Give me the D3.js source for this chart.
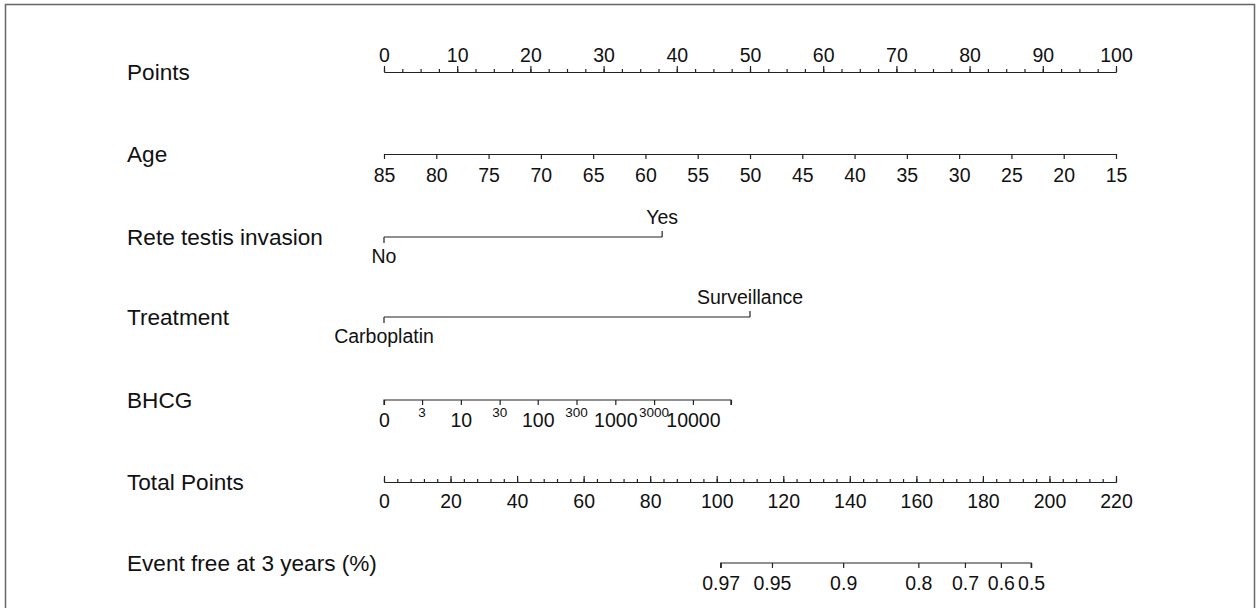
<!DOCTYPE html>
<html>
<head>
<meta charset="utf-8">
<script src="https://cdn.jsdelivr.net/npm/d3@7"></script>
<style>
  body { margin: 0; background: #fff; }
  svg text { font-family: "Liberation Sans", Arial, sans-serif; fill: #111; }
</style>
</head>
<body>
<svg id="nomo" width="1259" height="608"></svg>
<script>
// rows of the nomogram
const rowTitles = ["Points", "Age", "Rete testis invasion", "Treatment", "BHCG", "Total Points", "Event free at 3 years (%)"];

// points axis
const pointsMajor = [0, 10, 20, 30, 40, 50, 60, 70, 80, 90, 100];

// age: 85 years -> 0 points, 15 years -> 100 points
const ageTicks = [85, 80, 75, 70, 65, 60, 55, 50, 45, 40, 35, 30, 25, 20, 15];

// categorical predictors, with points
const reteLevels = ["No", "Yes"];
const retePoints = [0, 38];
const treatLevels = ["Carboplatin", "Surveillance"];
const treatPoints = [0, 50];

// BHCG tick labels and their points
const bhcgLabels = ["0", "3", "10", "30", "100", "300", "1000", "3000", "10000", ""];
const bhcgPoints = [0, 5.2, 10.5, 15.8, 21, 26.3, 31.6, 36.9, 42.2, 47.4];

// total points axis
const totalMajor = [0, 20, 40, 60, 80, 100, 120, 140, 160, 180, 200, 220];

// event free probability vs total points
const eventProbs = [0.97, 0.95, 0.9, 0.8, 0.7, 0.6, 0.5];
const eventTotal = [101.2, 116.6, 138.0, 160.6, 174.6, 185.4, 194.5];

const svg = d3.select("#nomo");
const lineCol = "#222";
const rowY = [72, 154, 237, 317, 400, 482, 563];
const x0 = 384, x1 = 1116;
const tickFont = 19.5;

// frame
svg.append("rect")
   .attr("x", 5.5).attr("y", 4.5)
   .attr("width", 1249).attr("height", 640)
   .attr("fill", "none").attr("stroke", "#666").attr("stroke-width", 1.5);

// row titles
svg.selectAll("text.title")
   .data(rowTitles)
   .enter()
   .append("text")
   .attr("class", "title")
   .attr("x", 127)
   .attr("y", (d, i) => rowY[i] + 8)
   .attr("font-size", 22.6)
   .text(d => d);

const xPts = d3.scaleLinear().domain([0, 100]).range([x0, x1]);
const xTot = d3.scaleLinear().domain([0, 220]).range([x0, x1]);

function styleAxis(g) {
  g.selectAll("path, line").attr("stroke", lineCol).attr("stroke-width", 1.2);
  g.selectAll("text").attr("font-size", tickFont).attr("fill", "#111")
   .attr("font-family", "'Liberation Sans', Arial, sans-serif");
}

function drawAxis(axis, y) {
  const g = svg.append("g").attr("transform", `translate(0, ${y})`).call(axis);
  styleAxis(g);
  return g;
}

// Points
drawAxis(d3.axisTop(xPts).tickValues(d3.range(0, 100.1, 2.5)).tickSize(3).tickSizeOuter(0).tickFormat(""), rowY[0]);
drawAxis(d3.axisTop(xPts).tickValues(pointsMajor).tickSize(6).tickSizeOuter(0).tickPadding(4), rowY[0]);

// Age
const xAge = d3.scaleLinear().domain([85, 15]).range([xPts(0), xPts(100)]);
drawAxis(d3.axisBottom(xAge).tickValues(ageTicks).tickSize(5).tickSizeOuter(0).tickPadding(9).tickFormat(d3.format("d")), rowY[1]);

// categorical rows: label of lowest level below, others above
function catRow(levels, pts, y) {
  const g = svg.append("g").attr("transform", `translate(0, ${y})`);
  g.append("line")
   .attr("x1", xPts(d3.min(pts))).attr("x2", xPts(d3.max(pts)))
   .attr("stroke", lineCol).attr("stroke-width", 1.2);
  levels.forEach((lev, i) => {
    const below = i === 0;
    g.append("line")
     .attr("x1", xPts(pts[i])).attr("x2", xPts(pts[i]))
     .attr("y1", 0).attr("y2", below ? 6 : -6)
     .attr("stroke", lineCol).attr("stroke-width", 1.2);
    g.append("text")
     .attr("x", xPts(pts[i]))
     .attr("y", below ? 26 : -13)
     .attr("text-anchor", "middle")
     .attr("font-size", tickFont)
     .text(lev);
  });
}
catRow(reteLevels, retePoints, rowY[2]);
catRow(treatLevels, treatPoints, rowY[3]);

// BHCG: alternate labels in a small raised font
const bhcgG = drawAxis(d3.axisBottom(xPts).tickValues(bhcgPoints).tickSize(5).tickSizeOuter(0)
                .tickPadding(8).tickFormat((d, i) => i % 2 === 0 ? bhcgLabels[i] : ""), rowY[4]);
bhcgG.select(".domain").attr("d", `M${xPts(0)},5V0H${xPts(d3.max(bhcgPoints))}V5`);
bhcgG.selectAll("text.small")
     .data(bhcgPoints.filter((d, i) => i % 2 === 1))
     .enter()
     .append("text")
     .attr("class", "small")
     .attr("x", d => xPts(d))
     .attr("y", 17)
     .attr("text-anchor", "middle")
     .attr("font-size", 13.5)
     .text((d, i) => bhcgLabels[i * 2 + 1]);

// Total points
drawAxis(d3.axisTop(xTot).tickValues(d3.range(0, 220.1, 4)).tickSize(3).tickSizeOuter(0).tickFormat(""), rowY[5]);
drawAxis(d3.axisBottom(xTot).tickValues(totalMajor).tickSize(0).tickSizeOuter(0).tickPadding(12), rowY[5]);
drawAxis(d3.axisTop(xTot).tickValues(totalMajor).tickSize(6).tickSizeOuter(0).tickFormat(""), rowY[5]);

// Event free at 3 years
const evG = drawAxis(d3.axisBottom(xTot).tickValues(eventTotal).tickSize(5).tickSizeOuter(0)
              .tickPadding(8).tickFormat((d, i) => String(eventProbs[i])), rowY[6]);
evG.select(".domain").attr("d", `M${xTot(d3.min(eventTotal))},5V0H${xTot(d3.max(eventTotal))}V5`);
</script>
</body>
</html>
